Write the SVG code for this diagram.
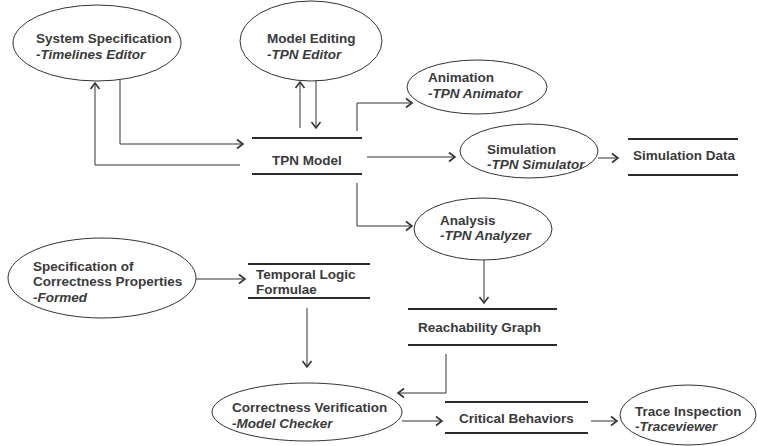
<svg xmlns="http://www.w3.org/2000/svg" width="757" height="446" viewBox="0 0 757 446">
<style>
.n{fill:#fff;stroke:#333;stroke-width:1}
.s{stroke:#2a2a2a;stroke-width:2}
text{font-family:"Liberation Sans",Arial,sans-serif;font-size:13.5px;font-weight:bold;fill:#3a3a3a}
.i{font-style:italic}
.c{fill:none;stroke:#333;stroke-width:1}
</style>
<defs>
<marker id="a" markerUnits="userSpaceOnUse" markerWidth="12" markerHeight="12" refX="7" refY="6" orient="auto">
<polyline points="1,1.5 7,6 1,10.5" fill="none" stroke="#333" stroke-width="1.6"/>
</marker>
</defs>
<rect width="757" height="446" fill="#fff"/>
<g id="connectors" class="c" marker-end="url(#a)">
<path d="M120,80 V144 H243"/>
<path d="M240,165 H95 V83"/>
<path d="M300,128 V82"/>
<path d="M316,80 V128"/>
<path d="M357,131 V103 H412"/>
<path d="M367,157 H455"/>
<path d="M598,158 H618"/>
<path d="M357,183 V226 H412"/>
<path d="M484,260 V303"/>
<path d="M195,279 H245"/>
<path d="M307,308 V367"/>
<path d="M446,354 V393 H398"/>
<path d="M402,421 H442"/>
<path d="M591,421 H617"/>
</g>
<g id="sysspec">
<ellipse class="n" cx="97" cy="43" rx="84" ry="38"/>
<text x="36" y="43.25">System Specification</text>
<text class="i" x="36" y="58.75">-Timelines Editor</text>
</g>
<g id="modeledit">
<ellipse class="n" cx="311" cy="41" rx="71" ry="40"/>
<text x="267" y="43.25">Model Editing</text>
<text class="i" x="267" y="58.75">-TPN Editor</text>
</g>
<g id="tpnmodel">
<line class="s" x1="252" y1="138" x2="362" y2="138"/>
<line class="s" x1="252" y1="174" x2="362" y2="174"/>
<text x="272" y="165">TPN Model</text>
</g>
<g id="animation">
<ellipse class="n" cx="477" cy="87" rx="70" ry="27"/>
<text x="428" y="82.25">Animation</text>
<text class="i" x="428" y="97.75">-TPN Animator</text>
</g>
<g id="simulation">
<ellipse class="n" cx="529" cy="151" rx="69" ry="27"/>
<text x="487" y="153.75">Simulation</text>
<text class="i" x="487" y="169.25">-TPN Simulator</text>
</g>
<g id="simdata">
<line class="s" x1="628" y1="139" x2="738" y2="139"/>
<line class="s" x1="628" y1="175" x2="738" y2="175"/>
<text x="633" y="160">Simulation Data</text>
</g>
<g id="analysis">
<ellipse class="n" cx="483" cy="229" rx="69" ry="31"/>
<text x="440" y="224.75">Analysis</text>
<text class="i" x="440" y="240.25">-TPN Analyzer</text>
</g>
<g id="specprops">
<ellipse class="n" cx="102" cy="278" rx="94" ry="40"/>
<text x="33" y="270.5">Specification of</text>
<text x="33" y="286">Correctness Properties</text>
<text class="i" x="33" y="301.5">-Formed</text>
</g>
<g id="temporal">
<line class="s" x1="248" y1="264" x2="370" y2="264"/>
<line class="s" x1="248" y1="298" x2="370" y2="298"/>
<text x="256" y="278.75">Temporal Logic</text>
<text x="256" y="294.25">Formulae</text>
</g>
<g id="reach">
<line class="s" x1="408" y1="309" x2="557" y2="309"/>
<line class="s" x1="408" y1="345" x2="557" y2="345"/>
<text x="418" y="332">Reachability Graph</text>
</g>
<g id="verify">
<ellipse class="n" cx="307" cy="412" rx="95" ry="29"/>
<text x="232" y="412.25">Correctness Verification</text>
<text class="i" x="232" y="427.75">-Model Checker</text>
</g>
<g id="critical">
<line class="s" x1="445" y1="402" x2="588" y2="402"/>
<line class="s" x1="445" y1="433" x2="588" y2="433"/>
<text x="459" y="423">Critical Behaviors</text>
</g>
<g id="trace">
<ellipse class="n" cx="688" cy="415" rx="68" ry="30"/>
<text x="635" y="415.75">Trace Inspection</text>
<text class="i" x="635" y="431.25">-Traceviewer</text>
</g>
</svg>
